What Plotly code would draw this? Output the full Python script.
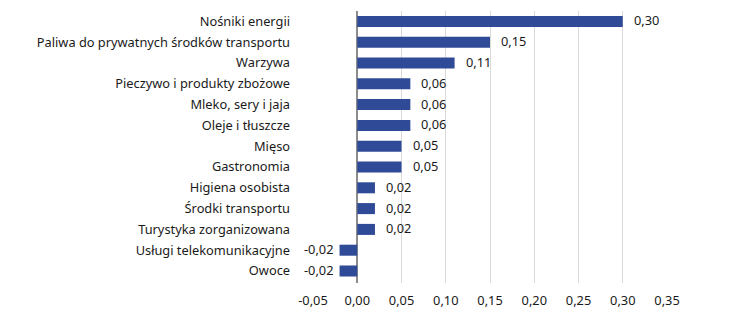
import plotly.graph_objects as go

categories = [
    "Nośniki energii",
    "Paliwa do prywatnych środków transportu",
    "Warzywa",
    "Pieczywo i produkty zbożowe",
    "Mleko, sery i jaja",
    "Oleje i tłuszcze",
    "Mięso",
    "Gastronomia",
    "Higiena osobista",
    "Środki transportu",
    "Turystyka zorganizowana",
    "Usługi telekomunikacyjne",
    "Owoce",
]
values = [0.30, 0.15, 0.11, 0.06, 0.06, 0.06, 0.05, 0.05, 0.02, 0.02, 0.02, -0.02, -0.02]
tick_vals = [-0.05, 0.0, 0.05, 0.10, 0.15, 0.20, 0.25, 0.30, 0.35]
tick_text = ["-0,05", "0,00", "0,05", "0,10", "0,15", "0,20", "0,25", "0,30", "0,35"]

labels = [f"{v:.2f}".replace(".", ",") for v in values]

FONT = "Noto Sans"
TXT = "#1a1a1a"
FS = 12.8

fig = go.Figure(
    go.Bar(
        x=values,
        y=categories,
        orientation="h",
        marker=dict(color="#2F4A97", line=dict(width=0)),
        width=0.53,
        hoverinfo="x+y",
    )
)

for cat, v, lab in zip(categories, values, labels):
    fig.add_annotation(
        x=v, y=cat, xref="x", yref="y",
        text=lab, showarrow=False,
        xanchor="left" if v >= 0 else "right",
        xshift=9 if v >= 0 else -4,
        yshift=1,
        font=dict(family=FONT, size=FS, color=TXT),
    )

fig.update_layout(
    width=750,
    height=334,
    margin=dict(l=313, r=83, t=11, b=51),
    paper_bgcolor="white",
    plot_bgcolor="white",
    showlegend=False,
    font=dict(family=FONT, size=FS, color=TXT),
    xaxis=dict(
        range=[-0.05, 0.35],
        tickvals=tick_vals,
        ticktext=tick_text,
        showgrid=True,
        gridcolor="#d9d9d9",
        gridwidth=1,
        zeroline=True,
        zerolinecolor="#8c8c8c",
        zerolinewidth=1.5,
        showline=False,
        ticks="",
        ticklabelstandoff=8,
        tickfont=dict(family=FONT, size=FS, color=TXT),
        fixedrange=True,
    ),
    yaxis=dict(
        autorange="reversed",
        showgrid=False,
        zeroline=False,
        showline=False,
        ticks="",
        ticklabelstandoff=22,
        tickfont=dict(family=FONT, size=FS, color=TXT),
        fixedrange=True,
    ),
)

fig.write_html("out.html")
